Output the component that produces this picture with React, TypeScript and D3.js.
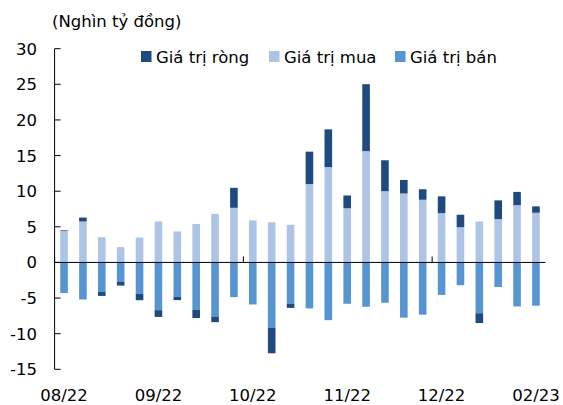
import React from "react";
import * as d3 from "d3";

const buyValues = [4.4, 5.75, 3.55, 2.15, 3.5, 5.75, 4.35, 5.4, 6.82, 7.67, 5.9, 5.65, 5.28, 11.0, 13.38, 7.6, 15.62, 10.0, 9.68, 8.8, 6.92, 4.95, 5.75, 6.08, 8.04, 6.97];
const sellValues = [4.3, 5.2, 4.15, 2.7, 4.4, 6.7, 4.82, 6.65, 7.6, 4.87, 5.9, 9.2, 5.83, 6.45, 8.1, 5.8, 6.22, 5.66, 7.75, 7.33, 4.56, 3.2, 7.13, 3.45, 6.18, 6.07];
const netValues = [0.1, 0.55, -0.55, -0.55, -0.9, -0.95, -0.47, -1.15, -0.78, 2.8, 0, -3.55, -0.55, 4.55, 5.3, 1.8, 9.4, 4.34, 1.9, 1.47, 2.36, 1.75, -1.38, 2.63, 1.86, 0.9];
const weeks = buyValues.map((_, i) => `w${i + 1}`);
const xTickLabels = ["08/22", "09/22", "10/22", "11/22", "12/22", "02/23"];
const xTickLabelWeeks = ["w1", "w6", "w11", "w16", "w21", "w26"];
const yTicks = [30, 25, 20, 15, 10, 5, 0, -5, -10, -15];
const seriesNames = ["Giá trị ròng", "Giá trị mua", "Giá trị bán"];

const COLORS = { net: "#1F4A80", buy: "#AEC4E6", sell: "#5795D2" };
const FONT = "'DejaVu Sans', Verdana, sans-serif";
const FS = 16.5;

export default function App() {
  const W = 563, H = 405;
  const x = d3.scaleBand<string>().domain(weeks).range([54.6, 545.4]).paddingInner(0.6).paddingOuter(0.3);
  const y = d3.scaleLinear().domain([-15, 30]).range([369.3, 48.7]);
  const step = x.step();
  const bw = 7.6;
  const cx = (w: string) => (x(w) as number) + x.bandwidth() / 2;
  const x0 = 54.6, x1 = 545.4;

  const legendItems = [
    { name: seriesNames[0], color: COLORS.net, sx: 141, tx: 156 },
    { name: seriesNames[1], color: COLORS.buy, sx: 269, tx: 284 },
    { name: seriesNames[2], color: COLORS.sell, sx: 395, tx: 410 },
  ];

  return (
    <svg width={W} height={H} style={{ position: "absolute", left: 0, top: 0, background: "#fff" }} fontFamily={FONT}>
      <text x={52} y={27} fontSize={FS} fill="#000">(Nghìn tỷ đồng)</text>
      {weeks.map((w, i) => {
        const c = cx(w);
        const buy = buyValues[i], sell = sellValues[i], net = netValues[i];
        const left = c - bw / 2;
        return (
          <g key={w}>
            <rect x={left} width={bw} y={y(buy)} height={y(0) - y(buy)} fill={COLORS.buy} />
            <rect x={left} width={bw} y={y(0)} height={y(-sell) - y(0)} fill={COLORS.sell} />
            {net > 0 ? (
              <rect x={left} width={bw} y={y(buy + net)} height={y(buy) - y(buy + net)} fill={COLORS.net} />
            ) : net < 0 ? (
              <rect x={left} width={bw} y={y(-sell)} height={y(-sell + net) - y(-sell)} fill={COLORS.net} />
            ) : null}
          </g>
        );
      })}
      <line x1={x0} x2={x0} y1={y(30)} y2={y(-15)} stroke="#000" strokeWidth={1} />
      {yTicks.map((t) => (
        <g key={t}>
          <line x1={x0} x2={x0 + 6} y1={y(t)} y2={y(t)} stroke="#000" strokeWidth={1} />
          <text x={37} y={y(t)} dy="0.36em" textAnchor="end" fontSize={FS} fill="#000">{t}</text>
        </g>
      ))}
      <line x1={x0} x2={x1} y1={y(0)} y2={y(0)} stroke="#000" strokeWidth={1} />
      {[0, 10, 20].map((k) => (
        <line key={k} x1={x0 + k * step} x2={x0 + k * step} y1={y(0)} y2={y(0) - 6} stroke="#000" strokeWidth={1} />
      ))}
      {xTickLabels.map((lab, j) => (
        <text key={lab} x={cx(xTickLabelWeeks[j])} y={401} textAnchor="middle" fontSize={FS} fill="#000">{lab}</text>
      ))}
      {legendItems.map((it) => (
        <g key={it.name}>
          <rect x={it.sx} y={51} width={10.5} height={11} fill={it.color} />
          <text x={it.tx} y={62.5} fontSize={FS} fill="#000">{it.name}</text>
        </g>
      ))}
    </svg>
  );
}
